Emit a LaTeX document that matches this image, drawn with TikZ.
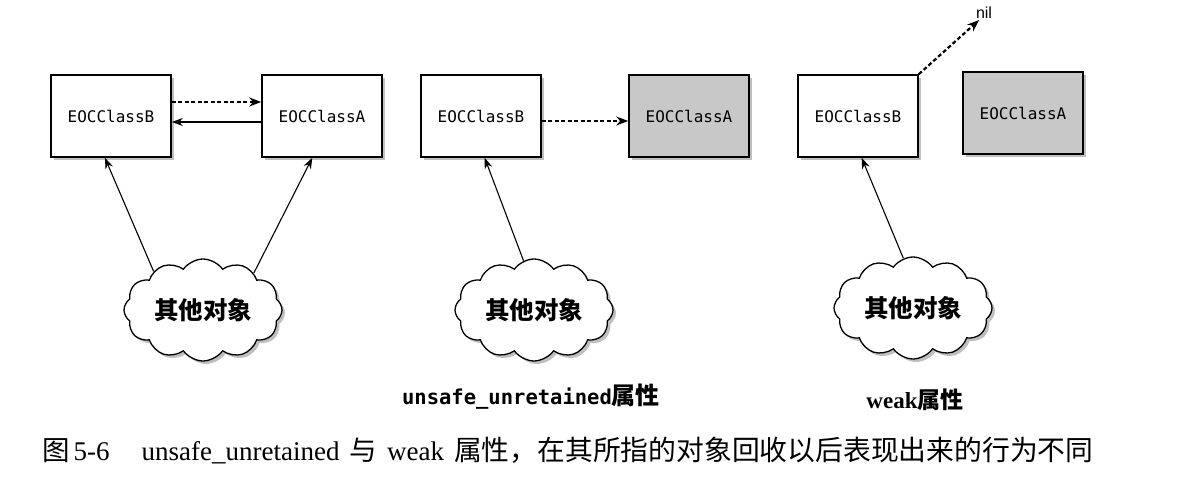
\documentclass[tikz,border=0pt]{standalone}
\usepackage{fontspec}
\setmainfont{Liberation Serif}
\setsansfont{Liberation Sans}
\setmonofont{DejaVu Sans Mono}
\newfontfamily\cjk{Noto Sans CJK SC}
\usetikzlibrary{shapes.symbols,shadows,arrows.meta,calc}
\definecolor{deadgrey}{RGB}{200,200,200}
\tikzset{
  objbox/.style={draw, line width=1.6pt, fill=white, minimum width=120pt, minimum height=82pt,
    inner sep=0pt, font=\ttfamily\fontsize{16}{16}\selectfont,
    drop shadow={shadow xshift=3pt, shadow yshift=-3pt, opacity=0.5}},
  deadbox/.style={objbox, fill=deadgrey},
  cloudn/.style={cloud, draw, line width=1.3pt, fill=white, cloud puffs=12, cloud puff arc=110,
    cloud ignores aspect, minimum width=158pt, minimum height=102pt, inner sep=0pt,
    font=\cjk\bfseries\fontsize{24.5}{24.5}\selectfont,
    drop shadow={shadow xshift=3pt, shadow yshift=-3pt, opacity=0.5}},
  ptr/.style={line width=1.1pt, -{Stealth[length=11pt,width=8pt]}},
  dptr/.style={line width=2.2pt, dash pattern=on 4pt off 2.5pt, -{Stealth[length=12pt,width=9pt]}},
}
\begin{document}
\begin{tikzpicture}[x=1pt,y=-1pt]
\useasboundingbox (0,0) rectangle (1188,484);
\fill[white] (0,0) rectangle (1188,484);

% boxes
\node[objbox] (b1) at (111,116) {EOCClassB};
\node[objbox] (a1) at (322,116) {EOCClassA};
\node[objbox] (b2) at (481,116) {EOCClassB};
\node[deadbox] (a2) at (689,116) {EOCClassA};
\node[objbox] (b3) at (858,116) {EOCClassB};
\node[deadbox] (a3) at (1023,113) {EOCClassA};
\node[font=\sffamily\fontsize{16}{16}\selectfont, inner sep=1pt] (nil) at (984,13) {nil};

% box connectors
\draw[dptr] ([yshift=14pt]b1.east) -- ([yshift=14pt]a1.west);
\draw[ptr] ([yshift=-6pt]a1.west) -- ([yshift=-6pt]b1.east);
\draw[dptr] ([yshift=-5pt]b2.east) -- ([yshift=-5pt]a2.west);
\draw[dptr] (b3.north east) -- (nil.235);

% clouds
\node[cloudn] (c1) at (203,310) {其他对象};
\node[cloudn] (c2) at (534,310) {其他对象};
\node[cloudn] (c3) at (913,308) {其他对象};

\draw[ptr] (c1.142) -- ($(b1.south west)!0.45!(b1.south east)$);
\draw[ptr] (c1.36) -- ($(a1.south west)!0.42!(a1.south east)$);
\draw[ptr] (c2.102) -- ($(b2.south west)!0.53!(b2.south east)$);
\draw[ptr] (c3.101) -- ($(b3.south west)!0.53!(b3.south east)$);

% labels
\node[font=\ttfamily\bfseries\fontsize{20.5}{20.5}\selectfont] (l1) at (531,397)
  {unsafe\_unretained{\cjk\bfseries\fontsize{24}{24}\selectfont 属性}};
\node[font=\bfseries\fontsize{23}{23}\selectfont] (l2) at (915,400)
  {weak{\cjk\bfseries 属性}};

% caption
\node[anchor=base west, inner sep=0pt, font=\fontsize{27}{27}\selectfont] (cap) at (42,460)
  {{\cjk\fontsize{27.5}{27.5}\selectfont 图}\hspace{4pt}5-6\hspace{32pt}unsafe\_unretained\hspace{10pt}{\cjk\fontsize{27.5}{27.5}\selectfont 与}\hspace{10pt}weak\hspace{10pt}{\cjk\fontsize{27.8}{27.8}\selectfont 属性，在其所指的对象回收以后表现出来的行为不同}};
\end{tikzpicture}
\end{document}
